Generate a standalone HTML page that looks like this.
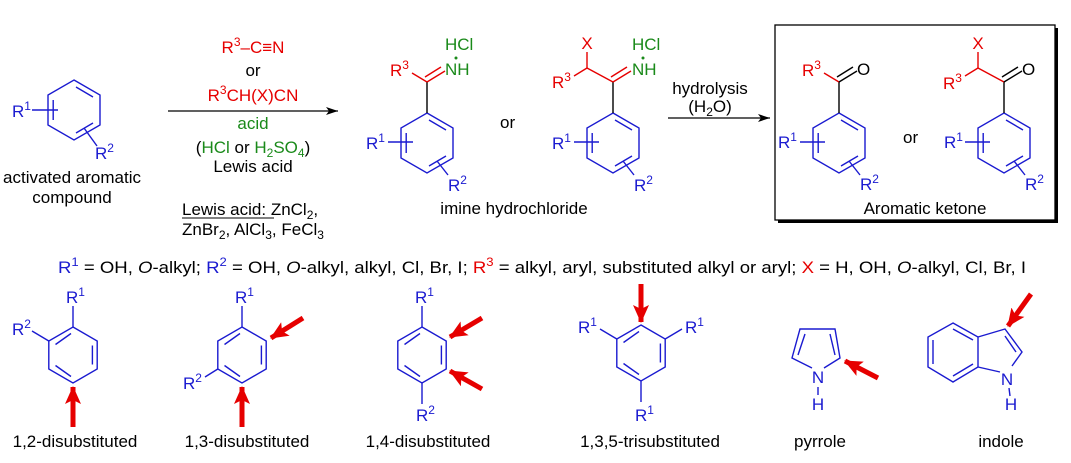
<!DOCTYPE html>
<html><head><meta charset="utf-8"><style>
html,body{margin:0;padding:0;background:#fff}
svg{display:block}
text{font-family:"Liberation Sans",Arial,sans-serif;font-size:17px;fill:#000}
.b{fill:#1a1ad0}.r{fill:#e60000}.g{fill:#1a8a1a}
.s{font-size:12px}
</style></head><body>
<svg width="1071" height="463" viewBox="0 0 1071 463" xmlns="http://www.w3.org/2000/svg">
<defs>
<g id="r30" fill="none" stroke="#1a1ad0" stroke-width="1.4">
<polygon points="0,-30 26,-15 26,15 0,30 -26,15 -26,-15"/>
<line x1="2" y1="-23" x2="19" y2="-13"/>
<line x1="19" y1="13" x2="2" y2="23"/>
<line x1="-20.8" y1="10" x2="-20.8" y2="-10"/>
</g>
<g id="r28" fill="none" stroke="#1a1ad0" stroke-width="1.4">
<polygon points="0,-28 24.2,-14 24.2,14 0,28 -24.2,14 -24.2,-14"/>
<line x1="-17.5" y1="-10.5" x2="-2" y2="-21.5"/>
<line x1="19.4" y1="-9.5" x2="19.4" y2="9.5"/>
<line x1="-2" y1="21.5" x2="-17.5" y2="10.5"/>
</g>
<marker id="ah" markerWidth="12" markerHeight="8" refX="12" refY="4" orient="auto" markerUnits="userSpaceOnUse">
<path d="M0,0 L12,4 L0,8 L3,4 Z" fill="#000"/>
</marker>
<marker id="rh" markerWidth="18" markerHeight="16" refX="17" refY="8" orient="auto" markerUnits="userSpaceOnUse">
<path d="M0,0 L18,8 L0,16 L4,8 Z" fill="#e60000"/>
</marker>
</defs>

<!-- reactant -->
<use href="#r30" x="74" y="110"/>
<line x1="32" y1="110" x2="58" y2="110" stroke="#1a1ad0" stroke-width="1.4"/>
<line x1="84" y1="128" x2="97" y2="146" stroke="#1a1ad0" stroke-width="1.4"/>
<text x="12" y="117" class="b">R<tspan class="s" dy="-7">1</tspan></text>
<text x="95" y="159" class="b">R<tspan class="s" dy="-7">2</tspan></text>
<text x="72" y="183" text-anchor="middle">activated aromatic</text>
<text x="72" y="203" text-anchor="middle">compound</text>

<!-- arrow 1 -->
<line x1="168" y1="111" x2="338" y2="111" stroke="#000" stroke-width="1.3" marker-end="url(#ah)"/>
<text x="253" y="53" text-anchor="middle" class="r">R<tspan class="s" dy="-7">3</tspan><tspan dy="7">–C≡N</tspan></text>
<text x="253" y="76" text-anchor="middle">or</text>
<text x="253" y="101" text-anchor="middle" class="r">R<tspan class="s" dy="-7">3</tspan><tspan dy="7">CH(X)CN</tspan></text>
<text x="253" y="129" text-anchor="middle" class="g">acid</text>
<text x="253" y="153" text-anchor="middle">(<tspan class="g">HCl</tspan> or <tspan class="g">H</tspan><tspan class="g s" dy="4">2</tspan><tspan class="g" dy="-4">SO</tspan><tspan class="g s" dy="4">4</tspan><tspan dy="-4">)</tspan></text>
<text x="253" y="172" text-anchor="middle">Lewis acid</text>
<text x="182" y="215">Lewis acid: ZnCl<tspan class="s" dy="4">2</tspan><tspan dy="-4">,</tspan></text>
<line x1="182" y1="218" x2="274" y2="218" stroke="#000" stroke-width="1"/>
<text x="182" y="235">ZnBr<tspan class="s" dy="4">2</tspan><tspan dy="-4">, AlCl</tspan><tspan class="s" dy="4">3</tspan><tspan dy="-4">, FeCl</tspan><tspan class="s" dy="4">3</tspan></text>

<!-- imine 1 -->
<use href="#r30" x="427" y="143"/>
<line x1="427" y1="113" x2="427" y2="82" stroke="#000" stroke-width="1.4"/>
<line x1="427" y1="82" x2="412" y2="73" stroke="#e60000" stroke-width="1.4"/>
<line x1="427" y1="82" x2="445" y2="71" stroke="#e60000" stroke-width="1.4"/>
<line x1="425" y1="77" x2="441" y2="67" stroke="#e60000" stroke-width="1.4"/>
<text x="390" y="76" class="r">R<tspan class="s" dy="-7">3</tspan></text>
<text x="445" y="75" class="g">NH</text>
<circle cx="456" cy="58" r="1.5" fill="#1a8a1a"/>
<text x="445" y="50" class="g">HCl</text>
<line x1="388" y1="142" x2="413" y2="142" stroke="#1a1ad0" stroke-width="1.4"/>
<line x1="437" y1="161" x2="448" y2="175" stroke="#1a1ad0" stroke-width="1.4"/>
<text x="366" y="149" class="b">R<tspan class="s" dy="-7">1</tspan></text>
<text x="448" y="191" class="b">R<tspan class="s" dy="-7">2</tspan></text>
<text x="500" y="128">or</text>

<!-- imine 2 -->
<use href="#r30" x="613" y="143"/>
<line x1="613" y1="113" x2="613" y2="82" stroke="#000" stroke-width="1.4"/>
<line x1="613" y1="82" x2="587" y2="68" stroke="#e60000" stroke-width="1.4"/>
<line x1="587" y1="68" x2="587" y2="52" stroke="#e60000" stroke-width="1.4"/>
<line x1="587" y1="68" x2="574" y2="76" stroke="#e60000" stroke-width="1.4"/>
<line x1="613" y1="82" x2="631" y2="71" stroke="#e60000" stroke-width="1.4"/>
<line x1="611" y1="77" x2="627" y2="67" stroke="#e60000" stroke-width="1.4"/>
<text x="587" y="49" text-anchor="middle" class="r">X</text>
<text x="552" y="88" class="r">R<tspan class="s" dy="-7">3</tspan></text>
<text x="632" y="75" class="g">NH</text>
<circle cx="643" cy="58" r="1.5" fill="#1a8a1a"/>
<text x="632" y="50" class="g">HCl</text>
<line x1="574" y1="142" x2="599" y2="142" stroke="#1a1ad0" stroke-width="1.4"/>
<line x1="623" y1="161" x2="634" y2="175" stroke="#1a1ad0" stroke-width="1.4"/>
<text x="552" y="149" class="b">R<tspan class="s" dy="-7">1</tspan></text>
<text x="634" y="191" class="b">R<tspan class="s" dy="-7">2</tspan></text>
<text x="514" y="214" text-anchor="middle">imine hydrochloride</text>

<!-- arrow 2 -->
<line x1="668" y1="118" x2="770" y2="118" stroke="#000" stroke-width="1.3" marker-end="url(#ah)"/>
<text x="710" y="94" text-anchor="middle">hydrolysis</text>
<text x="710" y="112" text-anchor="middle">(H<tspan class="s" dy="4">2</tspan><tspan dy="-4">O)</tspan></text>

<!-- box -->
<rect x="778" y="28" width="280" height="195" fill="#000"/>
<rect x="775" y="25" width="280" height="195" fill="#fff" stroke="#000" stroke-width="1.3"/>

<use href="#r30" x="839" y="143"/>
<line x1="839" y1="113" x2="839" y2="82" stroke="#000" stroke-width="1.4"/>
<line x1="839" y1="82" x2="824" y2="73" stroke="#e60000" stroke-width="1.4"/>
<line x1="839" y1="82" x2="857" y2="71" stroke="#000" stroke-width="1.4"/>
<line x1="837" y1="77" x2="853" y2="67" stroke="#000" stroke-width="1.4"/>
<text x="802" y="76" class="r">R<tspan class="s" dy="-7">3</tspan></text>
<text x="857" y="75">O</text>
<line x1="800" y1="142" x2="825" y2="142" stroke="#1a1ad0" stroke-width="1.4"/>
<line x1="849" y1="161" x2="860" y2="175" stroke="#1a1ad0" stroke-width="1.4"/>
<text x="778" y="148" class="b">R<tspan class="s" dy="-7">1</tspan></text>
<text x="860" y="190" class="b">R<tspan class="s" dy="-7">2</tspan></text>
<text x="903" y="143">or</text>

<use href="#r30" x="1004" y="143"/>
<line x1="1004" y1="113" x2="1004" y2="82" stroke="#000" stroke-width="1.4"/>
<line x1="1004" y1="82" x2="978" y2="68" stroke="#e60000" stroke-width="1.4"/>
<line x1="978" y1="68" x2="978" y2="52" stroke="#e60000" stroke-width="1.4"/>
<line x1="978" y1="68" x2="965" y2="76" stroke="#e60000" stroke-width="1.4"/>
<line x1="1004" y1="82" x2="1022" y2="71" stroke="#000" stroke-width="1.4"/>
<line x1="1002" y1="77" x2="1018" y2="67" stroke="#000" stroke-width="1.4"/>
<text x="978" y="49" text-anchor="middle" class="r">X</text>
<text x="943" y="89" class="r">R<tspan class="s" dy="-7">3</tspan></text>
<text x="1022" y="75">O</text>
<line x1="965" y1="142" x2="990" y2="142" stroke="#1a1ad0" stroke-width="1.4"/>
<line x1="1014" y1="161" x2="1025" y2="175" stroke="#1a1ad0" stroke-width="1.4"/>
<text x="944" y="148" class="b">R<tspan class="s" dy="-7">1</tspan></text>
<text x="1025" y="190" class="b">R<tspan class="s" dy="-7">2</tspan></text>
<text x="925" y="214" text-anchor="middle">Aromatic ketone</text>

<!-- legend -->
<text x="58" y="273" textLength="968" lengthAdjust="spacingAndGlyphs"><tspan class="b">R</tspan><tspan class="b s" dy="-7">1</tspan><tspan dy="7"> = OH, </tspan><tspan font-style="italic">O</tspan>-alkyl; <tspan class="b">R</tspan><tspan class="b s" dy="-7">2</tspan><tspan dy="7"> = OH, </tspan><tspan font-style="italic">O</tspan>-alkyl, alkyl, Cl, Br, I; <tspan class="r">R</tspan><tspan class="r s" dy="-7">3</tspan><tspan dy="7"> = alkyl, aryl, substituted alkyl or aryl; </tspan><tspan class="r">X</tspan> = H, OH, <tspan font-style="italic">O</tspan>-alkyl, Cl, Br, I</text>

<!-- 1,2 -->
<use href="#r28" x="73" y="355"/>
<line x1="73" y1="327" x2="73" y2="306" stroke="#1a1ad0" stroke-width="1.4"/>
<line x1="48.8" y1="341" x2="32" y2="331" stroke="#1a1ad0" stroke-width="1.4"/>
<text x="66" y="303" class="b">R<tspan class="s" dy="-7">1</tspan></text>
<text x="12" y="335" class="b">R<tspan class="s" dy="-7">2</tspan></text>
<line x1="73" y1="427" x2="73" y2="387" stroke="#e60000" stroke-width="5" marker-end="url(#rh)"/>
<text x="75" y="447" text-anchor="middle">1,2-disubstituted</text>

<!-- 1,3 -->
<use href="#r28" x="242" y="355"/>
<line x1="242" y1="327" x2="242" y2="306" stroke="#1a1ad0" stroke-width="1.4"/>
<line x1="217.8" y1="369" x2="205" y2="377" stroke="#1a1ad0" stroke-width="1.4"/>
<text x="235" y="303" class="b">R<tspan class="s" dy="-7">1</tspan></text>
<text x="183" y="389" class="b">R<tspan class="s" dy="-7">2</tspan></text>
<line x1="242" y1="427" x2="242" y2="387" stroke="#e60000" stroke-width="5" marker-end="url(#rh)"/>
<line x1="303" y1="318" x2="271" y2="338" stroke="#e60000" stroke-width="5" marker-end="url(#rh)"/>
<text x="247" y="447" text-anchor="middle">1,3-disubstituted</text>

<!-- 1,4 -->
<use href="#r28" x="422" y="355"/>
<line x1="422" y1="327" x2="422" y2="306" stroke="#1a1ad0" stroke-width="1.4"/>
<line x1="422" y1="383" x2="422" y2="404" stroke="#1a1ad0" stroke-width="1.4"/>
<text x="415" y="303" class="b">R<tspan class="s" dy="-7">1</tspan></text>
<text x="416" y="421" class="b">R<tspan class="s" dy="-7">2</tspan></text>
<line x1="482" y1="318" x2="450" y2="337" stroke="#e60000" stroke-width="5" marker-end="url(#rh)"/>
<line x1="482" y1="389" x2="450" y2="371" stroke="#e60000" stroke-width="5" marker-end="url(#rh)"/>
<text x="428" y="447" text-anchor="middle">1,4-disubstituted</text>

<!-- 1,3,5 -->
<use href="#r28" x="641" y="353"/>
<line x1="616.8" y1="339" x2="600" y2="329" stroke="#1a1ad0" stroke-width="1.4"/>
<line x1="665.2" y1="339" x2="682" y2="329" stroke="#1a1ad0" stroke-width="1.4"/>
<line x1="641" y1="381" x2="641" y2="402" stroke="#1a1ad0" stroke-width="1.4"/>
<text x="578" y="333" class="b">R<tspan class="s" dy="-7">1</tspan></text>
<text x="685" y="333" class="b">R<tspan class="s" dy="-7">1</tspan></text>
<text x="635" y="421" class="b">R<tspan class="s" dy="-7">1</tspan></text>
<line x1="641" y1="284" x2="641" y2="322" stroke="#e60000" stroke-width="5" marker-end="url(#rh)"/>
<text x="650" y="447" text-anchor="middle">1,3,5-trisubstituted</text>

<!-- pyrrole -->
<g fill="none" stroke="#1a1ad0" stroke-width="1.4">
<polyline points="812,368 792,358 800,329 835,329 840,358 824,368"/>
<line x1="805" y1="334" x2="798" y2="355"/>
<line x1="830" y1="334" x2="835" y2="355"/>
<line x1="818" y1="387" x2="818" y2="395"/>
</g>
<text x="818" y="383" text-anchor="middle" class="b">N</text>
<text x="818" y="410" text-anchor="middle" class="b">H</text>
<line x1="878" y1="378" x2="845" y2="361" stroke="#e60000" stroke-width="5" marker-end="url(#rh)"/>
<text x="820" y="447" text-anchor="middle">pyrrole</text>

<!-- indole -->
<g fill="none" stroke="#1a1ad0" stroke-width="1.4">
<polygon points="953,323 978,337 978,367 953,382 928,367 928,337"/>
<line x1="953" y1="329" x2="973" y2="340"/>
<line x1="973" y1="364" x2="953" y2="376"/>
<line x1="933" y1="364" x2="933" y2="340"/>
<polyline points="978,337 1005,329 1022,352 1012,366"/>
<polyline points="1000,372 978,367"/>
<line x1="1005" y1="336" x2="1016" y2="352"/>
<line x1="1009" y1="388" x2="1010" y2="396"/>
</g>
<text x="1007" y="385" text-anchor="middle" class="b">N</text>
<text x="1011" y="410" text-anchor="middle" class="b">H</text>
<line x1="1031" y1="294" x2="1008" y2="326" stroke="#e60000" stroke-width="5" marker-end="url(#rh)"/>
<text x="1001" y="447" text-anchor="middle">indole</text>
</svg>
</body></html>
